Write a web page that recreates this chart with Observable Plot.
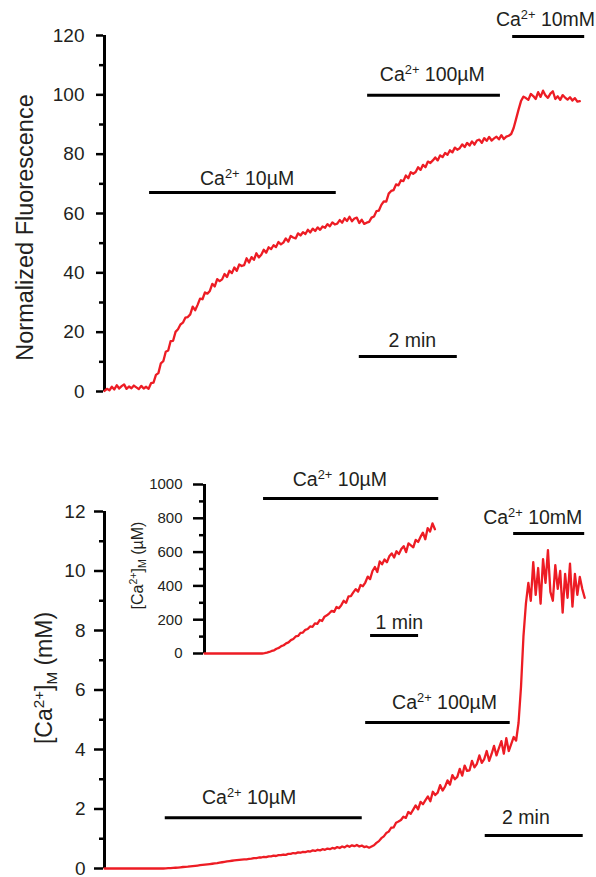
<!DOCTYPE html>
<html><head><meta charset="utf-8">
<script src="https://cdn.jsdelivr.net/npm/d3@7"></script>
<script src="https://cdn.jsdelivr.net/npm/@observablehq/plot@0.6"></script>
<style>
body{margin:0;background:#fff;}
#chart{position:relative;width:596px;height:877px;overflow:hidden;background:#fff;}
#chart svg{position:absolute;left:0;top:0;}
</style></head><body><div id="chart"></div>
<script>
// sampling interval of the traces (minutes)
const dtMin = 0.05;

// Top: normalized fluorescence, t = 0 … 9.7 min
const fluorescence = [
 0.2,0.9,0.4,1.6,0.7,2.1,1.0,1.8,2.4,0.9,
 1.7,1.1,2.0,1.4,0.8,1.9,1.0,1.6,0.9,2.8,
 3.0,5.6,6.2,9.5,10.2,13.4,13.8,17.0,17.1,20.1,
 21.0,22.6,23.2,24.9,25.1,26.0,28.6,27.4,29.2,31.3,
 31.1,33.4,33.0,33.9,36.3,35.4,37.9,37.2,37.8,39.6,
 38.6,40.7,39.9,41.8,40.7,42.8,42.3,42.6,44.9,43.5,
 45.3,44.4,46.6,45.2,46.1,47.8,46.8,48.6,48.0,49.3,
 48.7,50.4,49.6,50.2,51.6,50.5,52.4,51.9,51.6,53.3,
 52.6,53.7,53.1,54.5,53.6,54.9,54.1,55.3,54.5,55.6,
 55.2,56.4,55.7,57.0,56.3,56.6,57.8,56.9,58.4,57.5,
 58.9,57.4,58.3,58.6,56.8,57.9,56.5,56.9,57.2,58.6,
 59.0,60.8,61.0,62.9,64.1,64.0,66.7,67.6,67.9,69.8,
 69.5,71.2,70.9,72.8,71.9,73.9,73.4,74.0,75.6,74.7,
 76.4,75.6,77.5,77.0,77.9,78.9,77.9,79.6,79.0,80.4,
 79.8,81.3,80.6,82.2,81.5,82.0,83.3,82.4,83.8,82.9,
 84.3,83.2,84.6,84.9,83.8,85.4,84.5,85.8,84.6,85.3,
 85.9,85.0,86.4,85.1,85.9,86.2,86.8,88.8,91.9,95.0,
 97.9,99.4,98.9,98.3,100.3,99.6,98.6,100.9,99.3,101.4,
 99.8,99.0,100.4,101.2,98.6,99.5,98.3,99.9,99.1,98.4,
 99.2,98.1,98.9,97.7,97.9
];

// Bottom: mitochondrial [Ca2+] (mM), t = 0 … 9.8 min
const caMito_mM = [
 0,0,0,0,0,0,0,0,0,0,
 0,0,0,0,0,0,0,0,0,0,
 0,0,0,0,0,0.005,0.01,0.015,0.02,0.025,
 0.03,0.04,0.05,0.055,0.06,0.07,0.08,0.09,0.10,0.11,
 0.12,0.13,0.14,0.15,0.16,0.17,0.18,0.195,0.21,0.225,
 0.24,0.25,0.26,0.27,0.28,0.29,0.30,0.305,0.31,0.32,
 0.33,0.35,0.35,0.37,0.37,0.39,0.38,0.41,0.41,0.43,
 0.42,0.45,0.45,0.47,0.46,0.49,0.49,0.52,0.51,0.54,
 0.53,0.56,0.55,0.58,0.57,0.61,0.59,0.63,0.61,0.65,
 0.63,0.67,0.65,0.69,0.67,0.72,0.69,0.74,0.71,0.77,
 0.73,0.78,0.75,0.79,0.74,0.77,0.72,0.74,0.70,0.74,
 0.78,0.86,0.92,1.02,1.08,1.19,1.24,1.37,1.38,1.54,
 1.58,1.63,1.74,1.70,1.90,1.84,1.98,2.12,1.99,2.24,
 2.16,2.30,2.42,2.26,2.58,2.47,2.55,2.80,2.62,2.75,
 2.96,2.82,3.14,3.00,3.08,3.35,3.12,3.46,3.28,3.30,
 3.62,3.40,3.52,3.80,3.55,3.68,3.95,3.62,3.85,4.12,
 3.80,4.05,4.28,3.86,4.38,3.95,4.18,4.42,4.30,4.90,
 6.10,7.80,8.90,9.60,9.00,10.30,9.20,10.10,8.90,10.40,
 9.60,10.70,9.30,9.00,10.20,9.40,10.00,8.60,9.90,9.10,
 10.25,8.80,9.90,9.20,9.80,9.40,9.10
];

// Inset: mitochondrial [Ca2+] (µM), t = 0 … 4.8 min
const caInset_uM = [
 0,0,0,0,0,0,0,0,0,0,
 0,0,0,0,0,0,0,0,0,0,
 0,0,0,0,0,2,5,9,15,19,
 28,33,44,49,60,66,79,86,101,104,
 122,124,140,145,160,158,178,175,198,192,
 218,226,238,252,246,275,268,286,312,300,
 338,340,362,381,366,405,398,420,455,440,
 488,512,482,545,528,556,540,575,592,568,
 605,588,618,635,600,652,640,628,672,660,
 690,715,676,742,722,770,735
];

// axis ticks
const fluorTicks = [0,20,40,60,80,100,120];
const fluorMinor = [10,30,50,70,90,110];
const mMTicks = [0,2,4,6,8,10,12];
const mMMinor = [1,3,5,7,9,11];
const uMTicks = [0,200,400,600,800,1000];
const uMMinor = [100,300,500,700,900];

// axis titles
const topTitle = "Normalized Fluorescence";
const bottomTitle = "[Ca^{2+}]_{M} (mM)";
const insetTitle = "[Ca^{2+}]_{M} (µM)";

// treatment / scale bars: start, end (min), level (y units); label anchor (min, y units)
const topBars = [
 {label:"Ca^{2+} 10µM",  start:0.92, end:4.73, level:67.1, lt:2.91, lv:71.6},
 {label:"Ca^{2+} 100µM", start:5.37, end:8.08, level:99.9, lt:6.69, lv:106.9},
 {label:"Ca^{2+} 10mM",  start:8.33, end:9.80, level:119.7, lt:9.00, lv:125.3},
 {label:"2 min",         start:5.20, end:7.20, level:11.8, lt:6.28, lv:17.1}
];
const bottomBars = [
 {label:"Ca^{2+} 10µM",  start:1.24, end:5.26, level:1.71, lt:2.95, lv:2.37},
 {label:"Ca^{2+} 100µM", start:5.33, end:8.28, level:4.91, lt:6.94, lv:5.56},
 {label:"Ca^{2+} 10mM",  start:8.35, end:9.80, level:11.26, lt:8.74, lv:11.80},
 {label:"2 min",         start:7.77, end:9.77, level:1.11, lt:8.60, lv:1.69}
];
const insetBars = [
 {label:"Ca^{2+} 10µM", start:1.23, end:4.88, level:917, lt:2.82, lv:1030},
 {label:"1 min",        start:3.46, end:4.46, level:106, lt:4.06, lv:181}
];

const RED = "#ed1c24";
const INK = "#231f20";
const FONT = "'Liberation Sans', Arial, Helvetica, sans-serif";
const W = 596, H = 877;
const chart = document.getElementById("chart");

function baseStyle(){
  return {fontFamily: FONT, fontSize: "19px", color: INK, background: "transparent", overflow: "visible"};
}

function axisMarks(major, minor, o){
  return [
    Plot.ruleX([0], {y1: major[0], y2: major[major.length-1], stroke: "#000", strokeWidth: 3}),
    Plot.axisY(major, {tickSize: o.major, tickPadding: o.pad, strokeWidth: 2.5, stroke: "#000",
      fill: INK, fontSize: o.font, label: null, tickFormat: d => `${d}`}),
    Plot.axisY(minor, {tickSize: o.minor, strokeWidth: 2.5, stroke: "#000", fill: "none", label: null})
  ];
}

function barMarks(bars, font){
  return [
    Plot.ruleY(bars, {x1: "start", x2: "end", y: "level", stroke: "#000", strokeWidth: 3}),
    Plot.text(bars, {x: "lt", y: "lv", text: "label", fontSize: font, fill: INK})
  ];
}

function traceMark(values){
  return Plot.line(values, {x: (d, i) => i * dtMin, y: d => d, stroke: RED, strokeWidth: 2.3, curve: "linear"});
}

function titleMark(title, o){
  return Plot.text([title], {text: d => d, frameAnchor: "left", textAnchor: "middle", lineAnchor: "middle",
    dx: o.dx, dy: o.dy, rotate: -90, fontSize: o.font, fill: INK});
}

// top panel
const topPlot = Plot.plot({
  width: W, height: H,
  marginLeft: 103, marginTop: 35, marginBottom: H - 391, marginRight: 0,
  style: baseStyle(),
  x: {domain: [0, 10], range: [104, 594], axis: null},
  y: {domain: [0, 120]},
  marks: [
    ...axisMarks(fluorTicks, fluorMinor, {major: 7, minor: 4, pad: 12, font: 19}),
    traceMark(fluorescence),
    ...barMarks(topBars, 19.5),
    titleMark(topTitle, {dx: -78.5, dy: 14, font: 23.5})
  ]
});

// bottom panel
const bottomPlot = Plot.plot({
  width: W, height: H,
  marginLeft: 103, marginTop: 511, marginBottom: H - 868, marginRight: 0,
  style: baseStyle(),
  x: {domain: [0, 10], range: [104, 594], axis: null},
  y: {domain: [0, 12]},
  marks: [
    ...axisMarks(mMTicks, mMMinor, {major: 9, minor: 4, pad: 9, font: 19}),
    traceMark(caMito_mM),
    ...barMarks(bottomBars, 19.5),
    titleMark(bottomTitle, {dx: -59, dy: -12, font: 23})
  ]
});

// inset
const insetPlot = Plot.plot({
  width: W, height: H,
  marginLeft: 203, marginTop: 484, marginBottom: H - 653, marginRight: 0,
  style: baseStyle(),
  x: {domain: [0, 5], range: [204, 444], axis: null},
  y: {domain: [0, 1000]},
  marks: [
    ...axisMarks(uMTicks, uMMinor, {major: 10, minor: 4, pad: 11, font: 15}),
    traceMark(caInset_uM),
    ...barMarks(insetBars, 19.5),
    titleMark(insetTitle, {dx: -66, dy: -3.5, font: 16})
  ]
});

for (const svg of [topPlot, bottomPlot, insetPlot]) chart.appendChild(svg);

// render ^{…} as superscript and _{…} as subscript
const NS = "http://www.w3.org/2000/svg";
chart.querySelectorAll("text").forEach(el => {
  const s = el.textContent;
  if (!/[\^_]\{/.test(s)) return;
  const fs = parseFloat(getComputedStyle(el).fontSize) || 19;
  const parts = s.split(/(\^\{[^}]*\}|_\{[^}]*\})/).filter(p => p);
  el.textContent = "";
  let shift = 0;
  for (const p of parts) {
    const ts = document.createElementNS(NS, "tspan");
    let target = 0, txt = p;
    if (p.startsWith("^{")) { target = -0.36; txt = p.slice(2, -1); ts.setAttribute("font-size", (fs * 0.66) + "px"); }
    else if (p.startsWith("_{")) { target = 0.22; txt = p.slice(2, -1); ts.setAttribute("font-size", (fs * 0.66) + "px"); }
    const d = (target - shift) * fs;
    if (d !== 0) ts.setAttribute("dy", d + "px");
    shift = target;
    ts.textContent = txt;
    el.appendChild(ts);
  }
});
</script></body></html>
